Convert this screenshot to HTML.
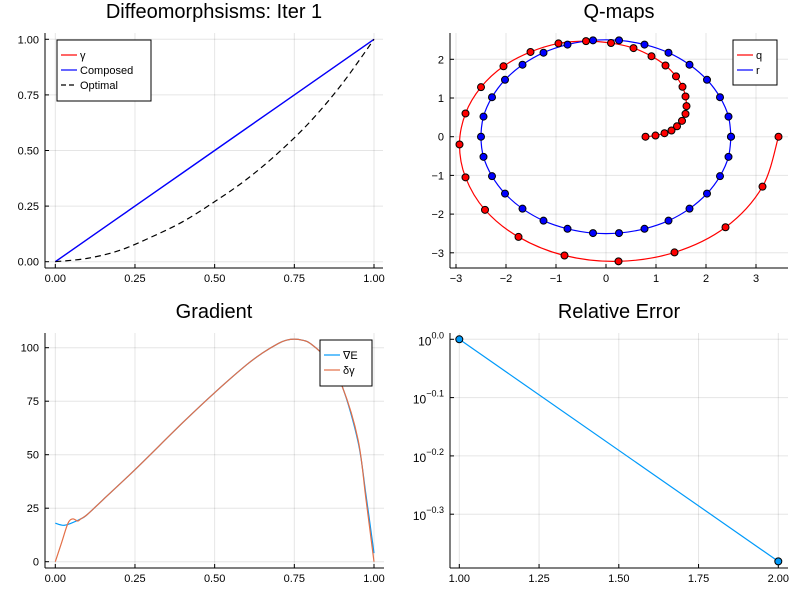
<!DOCTYPE html>
<html><head><meta charset="utf-8"><style>
body{margin:0;background:#fff}
svg{display:block;font-family:"Liberation Sans","DejaVu Sans",sans-serif}
</style></head><body>
<svg id="fig" width="800" height="600" xmlns="http://www.w3.org/2000/svg">
<rect width="800" height="600" fill="#fff"/>
</svg>
<script>
// ---- data: panel 1
const p1T=[0,0.1,0.2,0.3,0.4,0.5,0.6,0.7,0.8,0.9,1];
const p1Gamma=[0,0.1,0.2,0.3,0.4,0.5,0.6,0.7,0.8,0.9,1];
const p1Composed=[0,0.1,0.2,0.3,0.4,0.5,0.6,0.7,0.8,0.9,1];
const p1Optimal=[0,0.015,0.05,0.11,0.18,0.27,0.37,0.49,0.63,0.8,1];
const p1Ticks=["0.00","0.25","0.50","0.75","1.00"];
// ---- data: panel 2
const qX=[3.45,3.13,2.39,1.37,0.25,-0.83,-1.75,-2.42,-2.81,-2.93,-2.81,-2.5,-2.05,-1.51,-0.95,-0.4,0.1,0.55,0.91,1.19,1.4,1.53,1.59,1.61,1.59,1.52,1.42,1.31,1.17,0.99,0.79];
const qY=[0,-1.29,-2.34,-2.99,-3.22,-3.07,-2.59,-1.89,-1.05,-0.2,0.6,1.28,1.82,2.19,2.41,2.47,2.42,2.29,2.08,1.84,1.56,1.29,1.04,0.79,0.59,0.41,0.27,0.16,0.09,0.03,0];
const rX=[2.5,2.45,2.28,2.02,1.67,1.25,0.77,0.26,-0.26,-0.77,-1.25,-1.67,-2.02,-2.28,-2.45,-2.5,-2.45,-2.28,-2.02,-1.67,-1.25,-0.77,-0.26,0.26,0.77,1.25,1.67,2.02,2.28,2.45,2.5];
const rY=[0,0.52,1.02,1.47,1.86,2.17,2.38,2.49,2.49,2.38,2.17,1.86,1.47,1.02,0.52,0,-0.52,-1.02,-1.47,-1.86,-2.17,-2.38,-2.49,-2.49,-2.38,-2.17,-1.86,-1.47,-1.02,-0.52,0];
const p2XTicks=[-3,-2,-1,0,1,2,3];
const p2YTicks=[-3,-2,-1,0,1,2];
// ---- data: panel 3
const gT=[0,0.025,0.05,0.08,0.1,0.15,0.25,0.4,0.5,0.6,0.65,0.7,0.725,0.75,0.775,0.8,0.85,0.9,0.95,0.975,1.0];
const gradE=[18,17,18,20,22,29,43,65,79,92,97.5,102,103.5,104,103.5,102,95,82,56,31,4];
const dT=[0,0.02,0.04,0.055,0.07,0.08,0.1,0.15,0.25,0.4,0.5,0.6,0.65,0.7,0.725,0.75,0.775,0.8,0.85,0.9,0.95,0.975,1.0];
const dGamma=[0,9,18,20,19,20,22,29,43,65,79,92,97.5,102,103.5,104,103.5,102,95,82,57,29,0];
const p3YTicks=[0,25,50,75,100];
// ---- data: panel 4
const errIter=[1,2];
const errVal=[1.0,0.416];
const p4XTicks=["1.00","1.25","1.50","1.75","2.00"];
const p4YTicks=[0,-0.1,-0.2,-0.3];

const NS="http://www.w3.org/2000/svg";
const svg=document.getElementById('fig');
function el(tag,attrs,parent,text){const e=document.createElementNS(NS,tag);for(const k in attrs)e.setAttribute(k,attrs[k]);if(text!==undefined)e.textContent=text;(parent||svg).appendChild(e);return e;}
function lin(d0,d1,p0,p1){return v=>p0+(v-d0)*(p1-p0)/(d1-d0);}
function pathD(xs,ys,sx,sy){return xs.map((x,i)=>(i?'L':'M')+sx(x).toFixed(2)+','+sy(ys[i]).toFixed(2)).join('');}
function smoothD(xs,ys,sx,sy){const P=xs.map((x,i)=>[sx(x),sy(ys[i])]);let d='M'+P[0][0]+','+P[0][1];for(let i=0;i<P.length-1;i++){const p0=P[Math.max(0,i-1)],p1=P[i],p2=P[i+1],p3=P[Math.min(P.length-1,i+2)];d+='C'+(p1[0]+(p2[0]-p0[0])/6)+','+(p1[1]+(p2[1]-p0[1])/6)+' '+(p2[0]-(p3[0]-p1[0])/6)+','+(p2[1]-(p3[1]-p1[1])/6)+' '+p2[0]+','+p2[1];}return d;}
function frame(g,L,T,R,B){
  el('line',{x1:L,y1:T,x2:L,y2:B,stroke:'#000','stroke-width':1},g);
  el('line',{x1:L,y1:B,x2:R,y2:B,stroke:'#000','stroke-width':1},g);
}
function title(g,x,y,t,name){const e=el('text',{x:x,y:y,'text-anchor':'middle','font-size':20,fill:'#000'},g,t);}
function xtick(g,x,T,B,label){el('line',{x1:x,y1:T,x2:x,y2:B,stroke:'#000','stroke-opacity':0.1,'stroke-width':1},g);el('line',{x1:x,y1:B,x2:x,y2:B-4,stroke:'#000'},g);const t=el('text',{x:x,y:B+14,'text-anchor':'middle','font-size':11,fill:'#000'},g,label);}
function ytick(g,y,L,R,label){el('line',{x1:L,y1:y,x2:R,y2:y,stroke:'#000','stroke-opacity':0.1,'stroke-width':1},g);el('line',{x1:L,y1:y,x2:L+4,y2:y,stroke:'#000'},g);const t=el('text',{x:L-6,y:y+4,'text-anchor':'end','font-size':11,fill:'#000'},g,label);}
function legend(g,x,y,w,h,items){const lg=el('g',{},g);
  el('rect',{x:x,y:y,width:w,height:h,fill:'#fff',stroke:'#000','stroke-width':1},lg);
  items.forEach((it,i)=>{const cy=y+15+i*15;const e=el('g',{},lg);
    el('line',{x1:x+4,y1:cy,x2:x+20,y2:cy,stroke:it.c,'stroke-width':1.2,'stroke-dasharray':it.dash||'none'},e);
    el('text',{x:x+23,y:cy+4,'font-size':11,fill:'#000'},e,it.t);});}

// Panel 1
{const g=el('g',{});
const L=45,T=33,R=383,B=268;const sx=lin(0,1,55.3,374),sy=lin(0,1,261.7,39.3);
title(g,214,18,'Diffeomorphsisms: Iter 1','diffeomorphisms-title');
p1Ticks.forEach(s=>xtick(g,sx(+s),T,B,s));p1Ticks.forEach(s=>ytick(g,sy(+s),L,R,s));
frame(g,L,T,R,B);
let e=el('path',{d:pathD(p1T,p1Gamma,sx,sy),fill:'none',stroke:'#f00','stroke-width':1},g);
e=el('path',{d:pathD(p1T,p1Composed,sx,sy),fill:'none',stroke:'#00f','stroke-width':1.4},g);
e=el('path',{d:smoothD(p1T,p1Optimal,sx,sy),fill:'none',stroke:'#000','stroke-width':1.2,'stroke-dasharray':'6,4'},g);
legend(g,57,40,94,61,[{c:'#f00',t:'γ'},{c:'#00f',t:'Composed'},{c:'#000',t:'Optimal',dash:'5,3'}]);}

// Panel 2
{const g=el('g',{});
const L=450,T=33,R=788,B=268;const sx=lin(0,3,606,756),sy=lin(0,2,136.7,59.3);
title(g,619,18,'Q-maps','q-maps-title');
p2XTicks.forEach(v=>xtick(g,sx(v),T,B,v<0?'−'+(-v):''+v));p2YTicks.forEach(v=>ytick(g,sy(v),L,R,v<0?'−'+(-v):''+v));
frame(g,L,T,R,B);
let e=el('path',{d:smoothD(qX,qY,sx,sy),fill:'none',stroke:'#f00','stroke-width':1.2},g);
e=el('path',{d:smoothD(rX,rY,sx,sy),fill:'none',stroke:'#00f','stroke-width':1.2},g);
qX.forEach((x,i)=>{const c=el('circle',{cx:sx(x),cy:sy(qY[i]),r:3.5,fill:'#f00',stroke:'#000','stroke-width':1},g);});
rX.forEach((x,i)=>{const c=el('circle',{cx:sx(x),cy:sy(rY[i]),r:3.5,fill:'#00f',stroke:'#000','stroke-width':1},g);});
legend(g,733,40,44,45,[{c:'#f00',t:'q'},{c:'#00f',t:'r'}]);}

// Panel 3
{const g=el('g',{});
const L=45,T=333,R=384,B=568;const sx=lin(0,1,55.3,374),sy=lin(0,100,561.7,347.7);
title(g,214,318,'Gradient','gradient-title');
p1Ticks.forEach(s=>xtick(g,sx(+s),T,B,s));p3YTicks.forEach(v=>ytick(g,sy(v),L,R,''+v));
frame(g,L,T,R,B);
let e=el('path',{d:smoothD(gT,gradE,sx,sy),fill:'none',stroke:'#009AFA','stroke-width':1.2},g);
e=el('path',{d:smoothD(dT,dGamma,sx,sy),fill:'none',stroke:'#E36F47','stroke-width':1.2},g);
legend(g,320,340,52,46,[{c:'#009AFA',t:'∇E'},{c:'#E36F47',t:'δγ'}]);}

// Panel 4
{const g=el('g',{});
const L=450,T=333,R=788,B=568;const sx=lin(1,2,459.3,778.3),sy=lin(0,-0.1,339.3,397.6);
title(g,619,318,'Relative Error','relative-error-title');
p4XTicks.forEach(s=>xtick(g,sx(+s),T,B,s));
p4YTicks.forEach(v=>{const y=sy(v);el('line',{x1:L,y1:y,x2:R,y2:y,stroke:'#000','stroke-opacity':0.1},g);el('line',{x1:L,y1:y,x2:L+4,y2:y,stroke:'#000'},g);
 const t=el('text',{x:L-6,y:y+6,'text-anchor':'end','font-size':12,fill:'#000'},g);
 el('tspan',{},t,'10');el('tspan',{dy:-7,'font-size':9},t,v===0?'0.0':'−'+(-v).toFixed(1));});
frame(g,L,T,R,B);
const ly=errVal.map(v=>Math.log10(v));
let e=el('path',{d:pathD(errIter,ly,sx,sy),fill:'none',stroke:'#009AFA','stroke-width':1.2},g);
errIter.forEach((x,i)=>{const c=el('circle',{cx:sx(x),cy:sy(ly[i]),r:3.5,fill:'#009AFA',stroke:'#000','stroke-width':1},g);});}
</script>
</body></html>
